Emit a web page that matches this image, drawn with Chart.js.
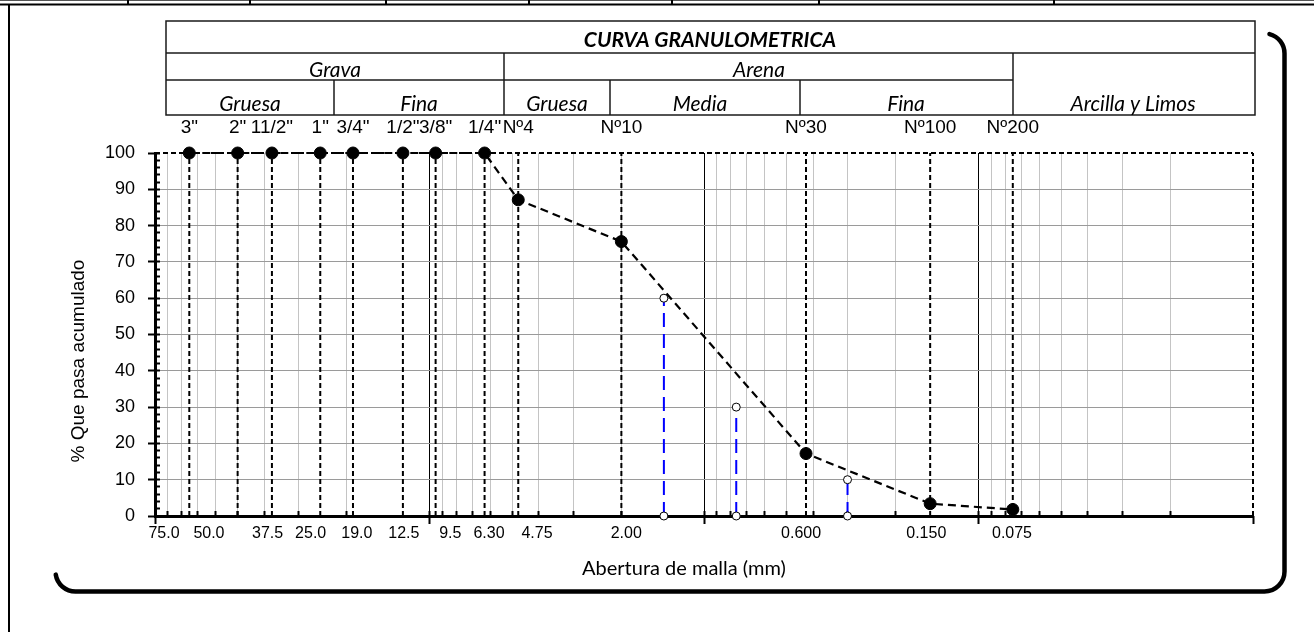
<!DOCTYPE html>
<html>
<head>
<meta charset="utf-8">
<title>Curva granulométrica</title>
<style>
  html, body { margin: 0; padding: 0; background: #ffffff; }
  #wrap { position: relative; width: 1314px; height: 632px; }
  canvas { display: block; }
</style>
<script src="https://cdn.jsdelivr.net/npm/chart.js@4.4.1/dist/chart.umd.min.js"></script>
</head>
<body>
<div id="wrap"><canvas id="c" width="1314" height="632"></canvas></div>
<script>
// ---------------- data ----------------
const sieveNames = ['3"', '2"', '11/2"', '1"', '3/4"', '1/2"', '3/8"', '1/4"', 'Nº4', 'Nº10', 'Nº30', 'Nº100', 'Nº200'];
const sieveSizesMm = [75, 50, 37.5, 25, 19, 12.5, 9.5, 6.3, 4.75, 2.0, 0.425, 0.15, 0.075];
const percentPassing = [100, 100, 100, 100, 100, 100, 100, 100, 87.1, 75.6, 17.2, 3.4, 1.8];

const bottomLabels = ['75.0', '50.0', '37.5', '25.0', '19.0', '12.5', '9.5', '6.30', '4.75', '2.00', '0.600', '0.150', '0.075'];
const bottomLabelAtMm = [92.7, 63.6, 38.9, 27.1, 18.4, 12.4, 8.4, 6.07, 4.06, 1.92, 0.443, 0.155, 0.0755];

const dNames = ['D60', 'D30', 'D10'];
const dSizesMm = [1.40, 0.763, 0.300];
const dPercents = [60, 30, 10];

const yLabelStep = 10;
const yMinorStep = 2;
const X_MIN = 0.01, X_MAX = 100, Y_MIN = 0, Y_MAX = 100;

const headerTitle = 'CURVA GRANULOMETRICA';
const xTitle = 'Abertura de malla (mm)';
const yTitle = '% Que pasa acumulado';

// ---------------- tick helpers ----------------
const decades = [0.01, 0.1, 1, 10, 100];
const xGridTicks = [];
for (let e = -2; e <= 1; e++) {
  for (let m = 1; m <= 9; m++) xGridTicks.push(+(m * Math.pow(10, e)).toPrecision(6));
}
xGridTicks.push(100);
const isDecade = v => decades.some(d => Math.abs(v - d) / d < 1e-6);
const isEnd = v => Math.abs(v - X_MIN) / X_MIN < 1e-6 || Math.abs(v - X_MAX) / X_MAX < 1e-6;

const yMinorTicks = [];
for (let v = Y_MIN; v <= Y_MAX; v += yMinorStep) yMinorTicks.push(v);
const yMajorTicks = [];
for (let v = Y_MIN; v <= Y_MAX; v += yLabelStep) yMajorTicks.push(v);

const setTicks = arr => scale => { scale.ticks = arr.map(v => ({ value: v })); };
const fixW = w => s => { s.width = w; };
const fixH = h => s => { s.height = h; };

const ARIAL = '"Liberation Sans", Arial, Helvetica, sans-serif';
const CALIBRI = 'Lato, "Open Sans", sans-serif';

// ---------------- datasets ----------------
const mainCurve = {
  label: 'Curva',
  data: sieveSizesMm.map((d, i) => ({ x: d, y: percentPassing[i] })),
  borderColor: '#000', borderWidth: 2.2, borderDash: [8, 5],
  pointRadius: 6, pointHoverRadius: 6,
  pointBackgroundColor: '#000', pointBorderColor: '#000', pointBorderWidth: 1,
  tension: 0, order: 0, clip: false, xAxisID: 'x', yAxisID: 'y'
};
const dLines = dSizesMm.map((d, i) => ({
  label: dNames[i],
  data: [{ x: d, y: Y_MIN }, { x: d, y: dPercents[i] }],
  borderColor: '#0000ff', borderWidth: 2, borderDash: [14, 7],
  pointRadius: 4, pointHoverRadius: 4,
  pointBackgroundColor: '#fff', pointBorderColor: '#000', pointBorderWidth: 1,
  tension: 0, order: 1, clip: false, xAxisID: 'x', yAxisID: 'y'
}));
const sieveLines = sieveSizesMm.map((d, i) => ({
  label: sieveNames[i],
  data: [{ x: d, y: Y_MIN }, { x: d, y: Y_MAX }],
  borderColor: '#000', borderWidth: 2, borderDash: [5, 3],
  pointRadius: 0, pointHoverRadius: 0,
  tension: 0, order: 2, clip: false, xAxisID: 'x', yAxisID: 'y'
}));
// dashed plot-area frame (top and right edges)
const frameLines = [
  [{ x: X_MAX, y: Y_MAX }, { x: X_MIN, y: Y_MAX }],
  [{ x: X_MIN, y: Y_MIN }, { x: X_MIN, y: Y_MAX }]
].map(pts => ({
  label: 'frame',
  data: pts,
  borderColor: '#000', borderWidth: 2, borderDash: [5, 3],
  pointRadius: 0, pointHoverRadius: 0,
  tension: 0, order: 3, clip: false, xAxisID: 'x', yAxisID: 'y'
}));

// ---------------- decorations (frame, header table, axis titles) ----------------
const decor = {
  id: 'decor',
  beforeDraw(chart) {
    const ctx = chart.ctx;
    ctx.save();
    // page strip at top
    ctx.fillStyle = '#555';
    ctx.fillRect(0, 0, 1314, 1);
    ctx.fillStyle = '#000';
    ctx.fillRect(0, 3.5, 1314, 2);
    [128, 250, 386, 529, 672, 819, 1054].forEach(x => ctx.fillRect(x - 1, 0, 2, 4));
    // left page border
    ctx.fillRect(8, 4, 2, 628);

    // rounded shadow frame (right & bottom)
    ctx.strokeStyle = '#000';
    ctx.lineWidth = 4.5;
    ctx.lineCap = 'round';
    ctx.beginPath();
    ctx.arc(75.5, 571.5, 20, Math.PI * 0.95, Math.PI / 2, true);
    ctx.lineTo(1264.5, 591.5);
    ctx.arc(1264.5, 571.5, 20, Math.PI / 2, 0, true);
    ctx.lineTo(1284.5, 53.5);
    ctx.arc(1264.5, 53.5, 20, 0, -Math.PI * 0.42, true);
    ctx.stroke();

    // header table
    ctx.strokeStyle = '#1a1a1a';
    ctx.lineWidth = 1.5;
    ctx.lineCap = 'butt';
    const L = 166, R = 1255, T = 21, B = 115, r1 = 53, r2 = 80;
    ctx.strokeRect(L, T, R - L, B - T);
    const seg = (x0, y0, x1, y1) => { ctx.beginPath(); ctx.moveTo(x0, y0); ctx.lineTo(x1, y1); ctx.stroke(); };
    seg(L, r1, R, r1);
    seg(L, r2, 1013, r2);
    seg(504, r1, 504, B);
    seg(1013, r1, 1013, B);
    seg(334, r2, 334, B);
    seg(610, r2, 610, B);
    seg(800, r2, 800, B);

    ctx.fillStyle = '#000';
    ctx.textAlign = 'center';
    ctx.textBaseline = 'alphabetic';
    ctx.font = 'italic bold 21px ' + CALIBRI;
    ctx.fillText(headerTitle, 710, 47);
    ctx.font = 'italic 21px ' + CALIBRI;
    ctx.fillText('Grava', 335, 77);
    ctx.fillText('Arena', 759, 77);
    ctx.fillText('Gruesa', 250, 111);
    ctx.fillText('Fina', 419, 111);
    ctx.fillText('Gruesa', 557, 111);
    ctx.fillText('Media', 700, 111);
    ctx.fillText('Fina', 906, 111);
    ctx.fillText('Arcilla y Limos', 1133, 111);

    // axis titles
    ctx.font = '20px ' + CALIBRI;
    ctx.fillText(xTitle, 684, 575);
    ctx.save();
    ctx.translate(79, 361);
    ctx.rotate(-Math.PI / 2);
    ctx.textBaseline = 'middle';
    ctx.font = '19px ' + ARIAL;
    ctx.fillText(yTitle, 0, 0);
    ctx.restore();

    ctx.restore();
  }
};

// ---------------- chart ----------------
new Chart(document.getElementById('c'), {
  type: 'line',
  data: { datasets: [mainCurve, ...dLines, ...sieveLines, ...frameLines] },
  options: {
    responsive: false,
    devicePixelRatio: 1,
    animation: false,
    events: [],
    layout: { padding: 0, autoPadding: false },
    plugins: { legend: { display: false }, title: { display: false }, tooltip: { enabled: false } },
    scales: {
      x: {
        type: 'logarithmic', position: 'bottom', reverse: true, min: X_MIN, max: X_MAX, weight: 0,
        afterBuildTicks: setTicks(xGridTicks), afterFit: fixH(0),
        ticks: { display: false, autoSkip: false },
        grid: {
          color: c => isDecade(c.tick.value) ? (isEnd(c.tick.value) ? 'rgba(0,0,0,0)' : '#000') : '#c4c4c4',
          lineWidth: 1, drawTicks: true, tickLength: -5, tickWidth: 2,
          tickColor: c => isEnd(c.tick.value) ? 'rgba(0,0,0,0)' : '#000'
        },
        border: { display: true, color: '#000', width: 3 }
      },
      xMaj: {
        type: 'logarithmic', position: 'bottom', reverse: true, min: X_MIN, max: X_MAX, weight: 1,
        afterBuildTicks: setTicks(decades), afterFit: fixH(0),
        ticks: { display: false, autoSkip: false },
        grid: { drawOnChartArea: false, drawTicks: true, tickLength: 8, tickWidth: 2, tickColor: '#000' },
        border: { display: false }
      },
      xLab: {
        type: 'logarithmic', position: 'bottom', reverse: true, min: X_MIN, max: X_MAX, weight: 2,
        afterBuildTicks: setTicks(bottomLabelAtMm), afterFit: fixH(116),
        grid: { display: false, drawTicks: false },
        border: { display: false },
        ticks: {
          autoSkip: false, maxRotation: 0, minRotation: 0, padding: 8, color: '#000',
          font: { family: ARIAL, size: 16 },
          callback: (v, i) => bottomLabels[i]
        }
      },
      xTop: {
        type: 'logarithmic', position: 'top', reverse: true, min: X_MIN, max: X_MAX,
        afterBuildTicks: setTicks(sieveSizesMm), afterFit: fixH(153),
        grid: { display: false, drawTicks: false },
        border: { display: false },
        ticks: {
          autoSkip: false, maxRotation: 0, minRotation: 0, padding: 14, color: '#000',
          font: { family: ARIAL, size: 19 },
          callback: (v, i) => sieveNames[i]
        }
      },
      y: {
        type: 'linear', position: 'left', min: Y_MIN, max: Y_MAX, weight: 1,
        afterBuildTicks: setTicks(yMinorTicks), afterFit: fixW(155),
        grid: {
          color: c => (c.tick.value % yLabelStep === 0 && c.tick.value > Y_MIN && c.tick.value < Y_MAX) ? '#9a9a9a' : 'rgba(0,0,0,0)',
          lineWidth: 1, drawTicks: true, tickLength: -5, tickWidth: 2, tickColor: '#000'
        },
        border: { display: true, color: '#000', width: 3 },
        ticks: {
          autoSkip: false, padding: 25, color: '#000',
          font: { family: ARIAL, size: 18 },
          callback: v => (v % yLabelStep === 0 ? String(v) : '')
        }
      },
      yMaj: {
        type: 'linear', position: 'left', min: Y_MIN, max: Y_MAX, weight: 0,
        afterBuildTicks: setTicks(yMajorTicks), afterFit: fixW(0),
        ticks: { display: false, autoSkip: false },
        grid: { drawOnChartArea: false, drawTicks: true, tickLength: 7, tickWidth: 2, tickColor: '#000' },
        border: { display: false }
      },
      y2: {
        type: 'linear', position: 'right', min: Y_MIN, max: Y_MAX,
        afterFit: fixW(61),
        ticks: { display: false },
        grid: { display: false, drawTicks: false },
        border: { display: false }
      }
    }
  },
  plugins: [decor]
});
</script>
</body>
</html>
